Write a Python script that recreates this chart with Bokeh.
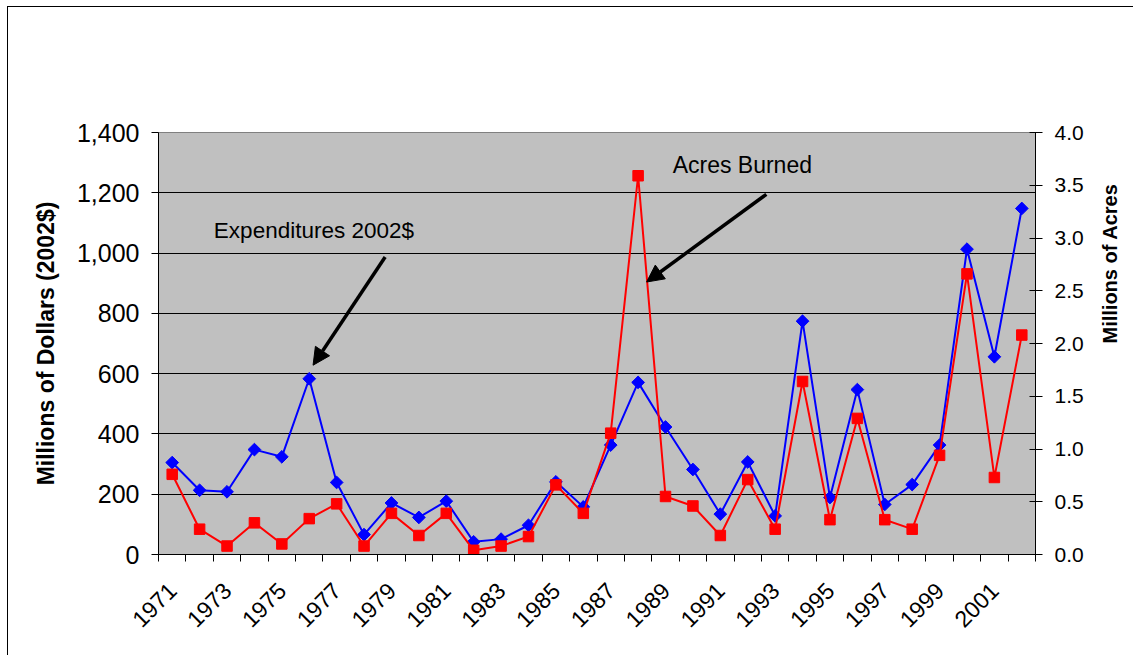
from math import pi
from bokeh.plotting import figure
from bokeh.models import (Range1d, LinearAxis, FixedTicker, NumeralTickFormatter,
                          Label, Arrow, NormalHead)
from bokeh.embed import file_html
from bokeh.resources import INLINE

years = list(range(1971, 2003))
expenditures = [305, 213, 208, 348, 324, 583, 239, 66, 171, 123, 177, 42, 51, 97,
                241, 158, 363, 571, 423, 282, 134, 307, 128, 774, 189, 547, 166,
                232, 363, 1013, 656, 1148]
acres = [0.76, 0.24, 0.08, 0.30, 0.10, 0.34, 0.48, 0.08, 0.39, 0.18, 0.39, 0.04,
         0.08, 0.17, 0.66, 0.39, 1.15, 3.59, 0.55, 0.46, 0.18, 0.71, 0.24, 1.64,
         0.33, 1.29, 0.33, 0.24, 0.94, 2.66, 0.73, 2.08]
label_years = list(range(1971, 2002, 2))
left_ticks = list(range(0, 1401, 200))
right_ticks = [0.0, 0.5, 1.0, 1.5, 2.0, 2.5, 3.0, 3.5, 4.0]

FONT = "Liberation Sans"

p = figure(width=1126, height=649, output_backend="svg", toolbar_location=None,
           x_range=Range1d(years[0] - 0.5, years[-1] + 0.5),
           y_range=Range1d(0, 1400),
           min_border_left=150, min_border_right=98,
           min_border_top=125, min_border_bottom=102,
           background_fill_color="#C0C0C0", border_fill_color="white",
           outline_line_color="#808080", outline_line_width=1)
p.styles = {"margin-left": "7px", "margin-top": "6px",
            "border-left": "1px solid black", "border-top": "1px solid black"}
p.extra_y_ranges = {"acres": Range1d(0, 4)}

# grid
p.xgrid.grid_line_color = None
p.ygrid.grid_line_color = "black"
p.ygrid.grid_line_width = 1
p.ygrid.ticker = FixedTicker(ticks=left_ticks)

# x axis
boundaries = [y - 0.5 for y in years] + [years[-1] + 0.5]
xa = p.xaxis[0]
xa.ticker = FixedTicker(ticks=label_years, minor_ticks=boundaries)
xa.major_tick_out = 0
xa.major_tick_in = 0
xa.minor_tick_out = 7
xa.minor_tick_in = 0
xa.minor_tick_line_color = "black"
xa.axis_line_color = "black"
xa.major_label_orientation = pi / 4
xa.major_label_text_font = FONT
xa.major_label_text_font_size = "23px"
xa.major_label_text_color = "black"
xa.major_label_standoff = 25

# left axis
ya = p.yaxis[0]
ya.ticker = FixedTicker(ticks=left_ticks)
ya.formatter = NumeralTickFormatter(format="0,0")
ya.axis_line_color = "black"
ya.major_tick_line_color = "black"
ya.major_tick_out = 7
ya.major_tick_in = 0
ya.minor_tick_out = 0
ya.minor_tick_in = 0
ya.major_label_text_font = FONT
ya.major_label_text_font_size = "25px"
ya.major_label_text_color = "black"
ya.major_label_standoff = 12
ya.axis_label = "Millions of Dollars (2002$)"
ya.axis_label_text_font = FONT
ya.axis_label_text_font_size = "23px"
ya.axis_label_text_font_style = "bold"
ya.axis_label_text_color = "black"
ya.axis_label_standoff = 15

# right axis
ra = LinearAxis(y_range_name="acres", ticker=FixedTicker(ticks=right_ticks),
                formatter=NumeralTickFormatter(format="0.0"))
ra.axis_line_color = "black"
ra.major_tick_line_color = "black"
ra.major_tick_out = 7
ra.major_tick_in = 6
ra.minor_tick_out = 0
ra.minor_tick_in = 0
ra.major_label_text_font = FONT
ra.major_label_text_font_size = "21px"
ra.major_label_text_color = "black"
ra.major_label_standoff = 12
ra.axis_label = "Millions of Acres"
ra.axis_label_text_font = FONT
ra.axis_label_text_font_size = "20px"
ra.axis_label_text_font_style = "bold"
ra.axis_label_text_color = "black"
ra.axis_label_standoff = 23
if hasattr(ra, "axis_label_orientation"):
    ra.axis_label_orientation = pi / 2
p.add_layout(ra, "right")

# series
p.line(years, expenditures, line_color="#0000FF", line_width=2)
p.scatter(years, expenditures, marker="square", angle=pi / 4, size=9,
          fill_color="#0000FF", line_color="#0000FF")
p.line(years, acres, y_range_name="acres", line_color="#FF0000", line_width=2)
p.scatter(years, acres, y_range_name="acres", marker="square", size=10.5,
          fill_color="#FF0000", line_color="#FF0000")

# annotations
p.add_layout(Label(x=1972.52, y=1076, text="Expenditures 2002$",
                   text_font=FONT, text_font_size="22.5px", text_color="black",
                   text_baseline="middle", text_align="left"))
p.add_layout(Label(x=1989.26, y=1292, text="Acres Burned",
                   text_font=FONT, text_font_size="23px", text_color="black",
                   text_baseline="middle", text_align="left"))
p.add_layout(Arrow(end=NormalHead(size=17, fill_color="black", line_color="black"),
                   x_start=1978.77, y_start=987, x_end=1976.14, y_end=628,
                   line_width=3.5, line_color="black"))
p.add_layout(Arrow(end=NormalHead(size=17, fill_color="black", line_color="black"),
                   x_start=1992.68, y_start=1195, x_end=1988.31, y_end=904,
                   line_width=3.5, line_color="black"))

open("out.html", "w").write(file_html(p, INLINE))
